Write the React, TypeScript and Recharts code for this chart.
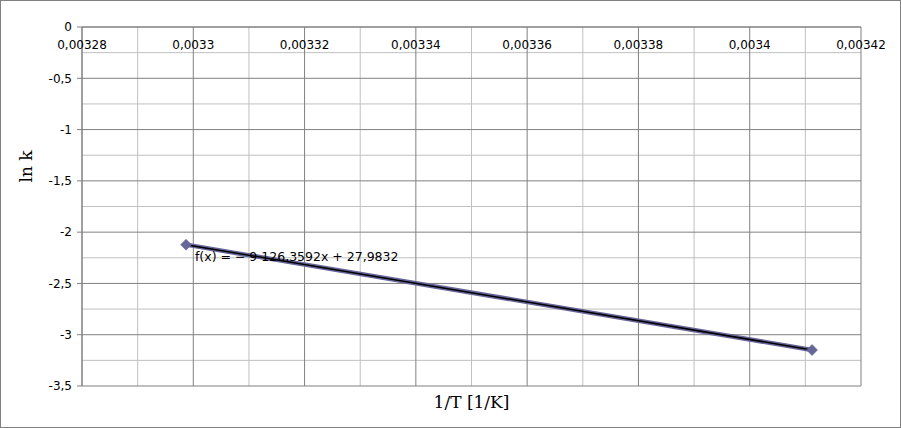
import React from 'react';
import {
  ComposedChart,
  Line,
  XAxis,
  YAxis,
  CartesianGrid,
  ReferenceDot,
} from 'recharts';

// Measured points (1/T, ln k)
const invT = [0.0032987, 0.0034112];
const lnK = [-2.1219, -3.1487];

// Linear trendline shown in the chart
const trendSlope = -9126.3592;
const trendIntercept = 27.9832;
const trendLabel = 'f(x) = \u2212 9 126,3592x + 27,9832';
const trendLabelX = 0.0033003;
const trendLabelY = -2.28;

// Axis ticks and minor grid values
const xTicks = [0.00328, 0.0033, 0.00332, 0.00334, 0.00336, 0.00338, 0.0034, 0.00342];
const xMinor = [0.00329, 0.00331, 0.00333, 0.00335, 0.00337, 0.00339, 0.00341];
const yTicks = [0, -0.5, -1, -1.5, -2, -2.5, -3, -3.5];
const yMinor = [-0.25, -0.75, -1.25, -1.75, -2.25, -2.75, -3.25];

const xTitle = '1/T [1/K]';
const yTitle = 'ln k';

const data = invT.map((x, i) => ({
  x,
  y: lnK[i],
  trend: trendSlope * x + trendIntercept,
}));

const fmt = (v: number) => (v === 0 ? '0' : String(v).replace('.', ','));

const SANS = '"DejaVu Sans", sans-serif';
const SERIF = '"DejaVu Serif", serif';

const XTick = (props: any) => {
  const { x, y, payload } = props;
  return (
    <text x={x} y={y + 22} textAnchor="middle" fontFamily={SANS} fontSize={12} fill="#000">
      {fmt(payload.value)}
    </text>
  );
};

const Diamond = (props: any) => {
  const { cx, cy } = props;
  if (cx == null || cy == null) return null;
  const r = 5.5;
  return (
    <polygon
      points={`${cx},${cy - r} ${cx + r},${cy} ${cx},${cy + r} ${cx - r},${cy}`}
      fill="#666699"
      stroke="#666699"
      strokeWidth={0.5}
    />
  );
};

export default function App() {
  return (
    <div
      style={{
        position: 'absolute',
        left: 0,
        top: 0,
        width: 901,
        height: 428,
        boxSizing: 'border-box',
        border: '1px solid #808080',
        background: '#fff',
      }}
    >
      <ComposedChart
        width={899}
        height={426}
        data={data}
        margin={{ top: 1, right: 39, bottom: 0, left: 0 }}
      >
        <CartesianGrid
          stroke="#c0c0c0"
          strokeWidth={1}
          verticalValues={xMinor}
          horizontalValues={yMinor}
        />
        <CartesianGrid stroke="#808080" strokeWidth={1} />
        <XAxis
          dataKey="x"
          type="number"
          orientation="top"
          domain={[0.00328, 0.00342]}
          ticks={xTicks}
          allowDataOverflow
          height={25}
          tickSize={0}
          tickMargin={0}
          tick={<XTick />}
          axisLine={{ stroke: '#808080' }}
          interval={0}
        />
        <XAxis
          xAxisId="bottom"
          dataKey="x"
          type="number"
          orientation="bottom"
          domain={[0.00328, 0.00342]}
          height={41}
          tick={false}
          tickLine={false}
          axisLine={false}
          label={{
            content: (p: any) => {
              const vb = p.viewBox;
              return (
                <text
                  x={vb.x + vb.width / 2}
                  y={vb.y + 22}
                  textAnchor="middle"
                  fontFamily={SERIF}
                  fontSize={17}
                  fill="#000"
                >
                  {xTitle}
                </text>
              );
            },
          }}
        />
        <YAxis
          type="number"
          domain={[-3.5, 0]}
          ticks={yTicks}
          width={81}
          interval={0}
          tickSize={5}
          tickMargin={5}
          tickFormatter={fmt}
          tick={{ fontFamily: SANS, fontSize: 12, fill: '#000' }}
          tickLine={{ stroke: '#808080' }}
          axisLine={{ stroke: '#808080' }}
          label={{
            content: (p: any) => {
              const vb = p.viewBox;
              const cx = vb.x + 25;
              const cy = vb.y + vb.height / 2 - 40;
              return (
                <text
                  x={cx}
                  y={cy}
                  transform={`rotate(-90 ${cx} ${cy})`}
                  textAnchor="middle"
                  dominantBaseline="central"
                  fontFamily={SERIF}
                  fontSize={17}
                  fill="#000"
                >
                  {yTitle}
                </text>
              );
            },
          }}
        />
        <Line
          dataKey="y"
          type="linear"
          stroke="#666699"
          strokeWidth={4.5}
          dot={<Diamond />}
          activeDot={false}
          isAnimationActive={false}
        />
        <Line
          dataKey="trend"
          type="linear"
          stroke="#000000"
          strokeWidth={1.5}
          dot={false}
          activeDot={false}
          isAnimationActive={false}
        />
        <ReferenceDot
          x={trendLabelX}
          y={trendLabelY}
          r={0}
          stroke="none"
          fill="none"
          ifOverflow="visible"
          label={{
            content: (p: any) => {
              const vb = p.viewBox;
              return (
                <text x={vb.x} y={vb.y} fontFamily={SANS} fontSize={12.5} fill="#000">
                  {trendLabel}
                </text>
              );
            },
          }}
        />
      </ComposedChart>
    </div>
  );
}
